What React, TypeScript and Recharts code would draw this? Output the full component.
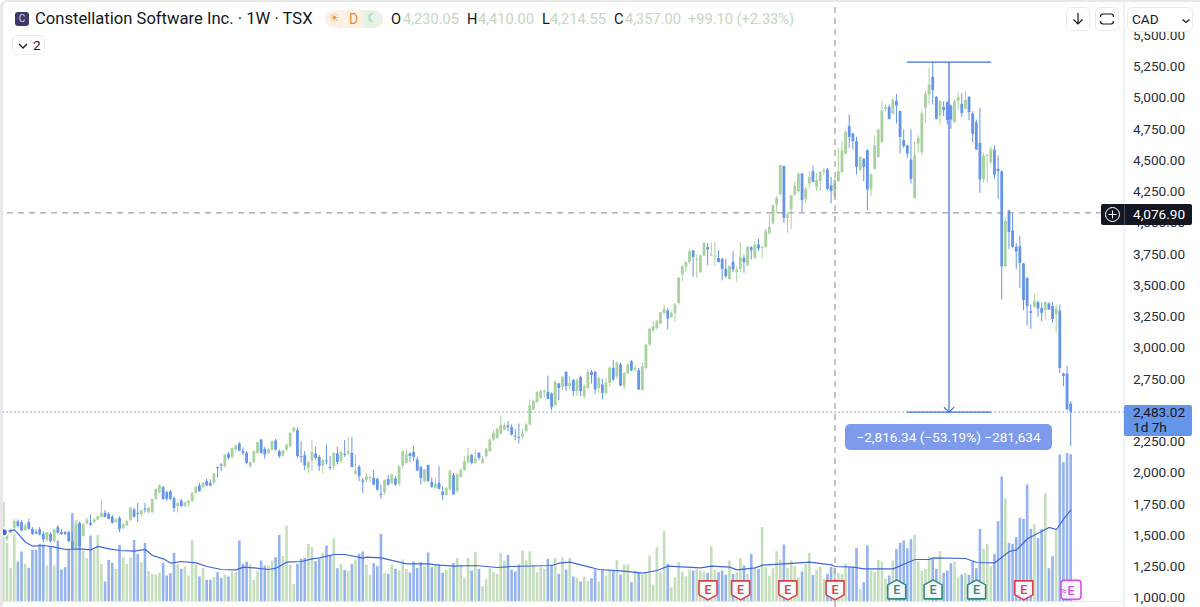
import React from 'react';
import { ComposedChart, Bar, Line, XAxis, YAxis, ReferenceLine, ReferenceDot } from 'recharts';

type Candle = [number, number, number, number];

// weekly candles, [open, high, low, close]
const candles2019: Candle[] = [
  [1504,1540,1495,1531],[1464,1525,1450,1517],[1517,1550,1510,1544],[1557,1629,1550,1611],[1611,1625,1560,1571],[1603,1620,1530,1536],
  [1539,1590,1530,1576],[1603,1629,1539,1549],[1549,1565,1500,1509],[1525,1545,1505,1512],[1544,1565,1496,1504],[1509,1530,1440,1464],
  [1464,1525,1445,1523],[1509,1520,1440,1451],[1451,1550,1440,1544],[1563,1578,1510,1517],[1523,1545,1500,1509],[1523,1535,1500,1509],
  [1523,1535,1440,1451],[1451,1520,1390,1397],[1397,1590,1390,1584],[1597,1610,1400,1411],[1491,1595,1485,1584],[1592,1640,1585,1624],
  [1597,1664,1570,1584],[1603,1635,1595,1624],[1624,1655,1615,1651],[1645,1784,1640,1677],[1677,1700,1640,1645],[1669,1685,1625,1629],
  [1645,1660,1590,1597],[1603,1635,1595,1624],[1635,1650,1523,1549],[1557,1600,1545,1584],[1576,1620,1570,1611],[1619,1725,1610,1717],
  [1704,1720,1640,1645],[1677,1757,1603,1672],[1664,1700,1650,1699],[1712,1757,1677,1704],[1683,1725,1675,1717],[1683,1790,1675,1789],
  [1789,1870,1780,1869],[1843,1905,1835,1896],[1883,1895,1780,1789],[1843,1855,1775,1789],[1848,1860,1780,1789],[1795,1810,1683,1717],
  [1731,1760,1680,1757],[1776,1790,1725,1731],[1731,1765,1725,1763],[1757,1785,1730,1771],[1771,1845,1765,1837],[1837,1890,1830,1885],
  [1896,1915,1845,1851],[1885,1925,1875,1917],[1931,1950,1890,1896],[1917,1945,1890,1896],[1917,1995,1905,1992],[2043,2050,1960,2037],
  [2064,2075,2010,2058],[2051,2145,2040,2144],[2149,2165,2105,2117],[2125,2200,2115,2197],[2184,2225,2170,2216],[2232,2245,2170,2176],
  [2171,2200,2140,2157],[2157,2170,2065,2077],[2051,2090,2035,2083],[2083,2175,2075,2171],[2157,2245,2150,2243],[2264,2270,2150,2157],
  [2189,2205,2110,2144],[2157,2195,2145,2184],[2184,2255,2175,2251],[2256,2270,2175,2184],[2171,2185,2115,2131],[2136,2180,2125,2176],
  [2184,2230,2170,2224],[2211,2325,2200,2317],[2331,2372,2320,2357],[2339,2360,2115,2131],
];

const candles2021: Candle[] = [
  [2131,2251,2077,2123],[2139,2171,2019,2056],[2037,2095,1992,2083],[2096,2264,2011,2163],[2152,2205,2104,2117],[2125,2140,2011,2051],
  [2056,2110,1992,2099],[2096,2224,2064,2088],[2045,2131,2019,2040],[2051,2165,2024,2157],[2152,2205,2064,2083],[2091,2185,2075,2163],
  [2149,2259,2125,2144],[2152,2285,2140,2171],[2157,2285,2040,2045],[1989,2144,1984,2011],[2045,2061,1931,1971],[1936,1957,1837,1923],
  [1939,1997,1923,1971],[1955,1984,1923,1965],[1957,2019,1896,1904],[1949,1960,1851,1864],[1829,1904,1789,1824],[1843,1945,1824,1939],
  [1949,1979,1891,1904],[1917,1989,1904,1984],[1952,1971,1891,1904],[1912,2055,1891,2051],[2056,2179,2029,2171],[2077,2184,2072,2144],
  [2152,2163,2083,2131],[2163,2216,2091,2125],[2104,2125,2011,2016],[2043,2055,1904,1957],[1931,2029,1923,2024],[2061,2061,1923,1931],
  [1925,1963,1877,1885],[1877,1957,1870,1909],[1917,2051,1864,1869],[1848,1891,1779,1819],[1819,1885,1811,1877],[1864,2020,1855,2016],
  [1979,1997,1824,1824],[1851,1997,1837,1984],[1965,2037,1957,2016],[2019,2131,2011,2091],[2083,2197,2072,2136],[2139,2150,2064,2077],
  [2077,2184,2072,2112],[2157,2163,2099,2117],[2077,2131,2072,2109],[2131,2197,2117,2189],[2171,2277,2163,2264],[2264,2339,2251,2317],
  [2277,2357,2269,2349],[2312,2456,2304,2379],[2344,2397,2339,2379],[2376,2411,2331,2363],[2363,2384,2296,2304],[2296,2349,2259,2291],
  [2285,2392,2232,2277],[2285,2345,2264,2312],[2331,2397,2317,2384],[2384,2584,2376,2536],[2504,2584,2499,2571],[2563,2651,2557,2645],
  [2597,2659,2589,2651],[2643,2664,2597,2651],[2643,2776,2584,2589],[2632,2640,2496,2523],[2539,2739,2531,2725],[2712,2717,2579,2677],
  [2685,2771,2659,2765],[2805,2812,2651,2691],[2691,2771,2664,2717],[2739,2750,2611,2651],[2651,2757,2611,2739],[2765,2775,2611,2651],
  [2611,2704,2589,2691],[2677,2824,2664,2805],[2805,2819,2712,2779],[2805,2812,2629,2664],[2677,2765,2640,2757],
];

const candles2023: Candle[] = [
  [2704,2749,2584,2637],[2637,2757,2625,2717],[2717,2851,2691,2837],[2837,2899,2731,2744],[2771,2891,2744,2877],[2864,2880,2691,2696],
  [2696,2803,2664,2797],[2792,2877,2784,2864],[2891,2899,2811,2816],[2824,2856,2803,2837],[2819,2837,2659,2664],[2659,2877,2659,2851],
  [2837,3024,2824,3024],[3024,3157,3011,3149],[3136,3211,3123,3171],[3157,3219,3144,3211],[3192,3283,3184,3283],[3277,3344,3264,3309],
  [3296,3317,3144,3232],[3243,3291,3237,3277],[3277,3357,3211,3344],[3357,3563,3344,3557],[3584,3656,3531,3651],[3645,3691,3603,3683],
  [3683,3789,3677,3771],[3776,3779,3565,3723],[3704,3744,3557,3709],[3603,3744,3597,3736],[3736,3843,3731,3837],[3803,3837,3659,3784],
  [3736,3837,3731,3744],[3731,3843,3651,3736],[3717,3779,3677,3685],[3709,3717,3536,3629],[3629,3709,3557,3571],[3549,3656,3544,3651],
  [3685,3771,3603,3624],[3603,3651,3525,3624],[3629,3843,3603,3725],[3717,3744,3597,3683],[3656,3811,3651,3805],[3803,3811,3704,3776],
  [3717,3851,3709,3824],[3824,3869,3771,3792],[3797,3811,3712,3805],[3805,3949,3797,3931],[3917,4064,3904,3965],[3992,4144,3984,4136],
  [4144,4211,4077,4197],[4224,4464,4224,4459],[4451,4456,3997,4037],[4037,4077,3917,4064],[4109,4224,3949,4216],[4224,4331,4211,4296],
  [4251,4397,4237,4392],[4392,4397,4083,4179],[4189,4285,4157,4269],[4312,4411,4277,4365],[4411,4456,4323,4325],[4285,4397,4251,4339],
  [4331,4411,4251,4403],[4408,4437,4380,4419],[4424,4437,4259,4269],[4296,4365,4152,4251],[4216,4349,4197,4344],[4331,4600,4325,4411],
];

const candles2025: Candle[] = [
  [4403,4651,4397,4576],[4552,4744,4544,4723],[4771,4864,4597,4685],[4712,4717,4584,4651],[4651,4685,4384,4445],[4419,4531,4411,4525],
  [4509,4517,4331,4445],[4579,4584,4099,4264],[4264,4392,4211,4384],[4429,4696,4424,4619],[4525,4749,4517,4744],[4643,4971,4637,4896],
  [4909,4944,4890,4925],[4925,4944,4824,4829],[4872,4997,4864,4979],[4971,5029,4792,4936],[4891,4896,4552,4685],[4659,4744,4597,4611],
  [4616,4624,4517,4552],[4504,4744,4312,4349],[4197,4651,4192,4536],[4632,4704,4557,4677],[4563,4904,4536,4872],[4917,5051,4797,5032],
  [5024,5237,4944,5104],[5165,5285,4944,5059],[5005,5011,4824,4829],[4856,4976,4784,4971],[4925,4971,4851,4899],[4963,4971,4784,4819],
  [4936,4944,4749,4824],[4803,4984,4797,4971],[4971,5051,4904,5003],[4949,5037,4845,4877],[4909,5051,4904,4979],[5005,5011,4819,4883],
  [4872,4891,4643,4709],[4803,4824,4579,4584],[4637,4917,4237,4344],[4349,4557,4317,4536],[4531,4544,4317,4541],[4483,4611,4464,4589],
  [4584,4616,4349,4384],[4429,4536,4189,4411],[4408,4420,3384,3650],[3651,4040,3645,4011],[4096,4104,3789,3925],[3936,4072,3797,3805],
  [3805,3837,3629,3768],[3811,3891,3477,3677],[3672,3677,3299,3379],[3557,3563,3176,3331],[3291,3344,3149,3277],[3325,3429,3317,3371],
  [3363,3376,3245,3312],[3317,3357,3211,3277],[3299,3371,3219,3363],[3352,3363,3299,3304],[3331,3363,3197,3229],[3264,3344,3117,3312],
  [3296,3344,2797,2837],[2792,2800,2691,2771],[2792,2851,2504,2504],[2552,2571,2211,2483.02],
];

const volumes = [
  298,175,100,203,120,150,113,101,155,155,173,171,108,163,108,183,96,103,158,265,245,233,153,130,198,155,200,113,60,125,116,98,170,133,113,131,185,143,118,176,
  91,83,81,86,116,78,85,146,111,98,105,78,185,111,75,101,65,65,73,88,71,81,75,91,88,183,113,120,111,65,91,123,108,108,123,133,200,136,228,110,53,113,
  128,131,173,163,121,128,146,168,138,190,100,113,95,91,113,125,143,150,111,81,115,106,203,86,83,111,98,93,126,98,87,120,101,118,106,147,103,111,111,86,
  95,101,116,131,111,71,131,93,148,98,46,67,100,88,83,146,123,140,95,90,111,153,123,151,111,88,103,98,128,111,131,83,133,96,131,75,71,60,75,61,70,96,60,
  95,78,96,93,125,81,111,111,58,93,85,81,85,138,51,163,88,211,113,43,73,118,88,75,96,93,98,93,90,86,166,96,88,93,80,123,83,88,130,108,
  83,143,100,98,223,103,78,100,151,126,171,100,123,106,73,90,113,146,80,95,105,68,83,103,101,85,
  83,113,103,103,161,38,58,168,93,88,125,120,68,78,123,158,176,183,160,187,200,120,93,98,135,128,98,151,86,93,
  115,120,73,81,86,80,120,100,218,158,173,105,143,241,375,308,176,173,193,251,248,351,218,231,190,218,325,100,136,213,441,418,446,442,
];

// volume moving average, read at the bends only
const maIndex = [0,3,4,6,8,11,14,17,21,24,26,29,32,36,39,41,44,46,49,53,56,60,64,66,69,73,75,78,82,85,87,91,94,99,100,104,111,117,120,124,130,136,140,151,153,156,160,164,170,176,180,183,192,195,200,202,207,209,215,222,228,229,234,237,245,251,255,256,265,268,273,277,279,282,286,288,290,292,294];
const maValues = [208,215,203,178,166,168,163,156,158,155,165,158,153,151,156,138,128,115,120,116,105,96,95,103,101,96,100,118,120,128,131,141,141,130,133,131,113,113,109,106,108,102,105,108,115,118,107,96,92,85,93,106,101,106,103,95,101,109,113,118,110,105,103,98,98,126,126,131,129,117,116,150,155,188,211,222,216,248,275];

const priceTicks = [1000,1250,1500,1750,2000,2250,2500,2750,3000,3250,3500,3750,4000,4250,4500,4750,5000,5250,5500];

const earningsBeat = [246,256,268];
const earningsMiss = [194,203,216,229,281];
const earningsNext = 294;

const lastPrice = 2483.02;
const crossPrice = 4076.9;
const crossIndex = 229;
const measureTop = 5283;
const measureFrom = 248.8;
const measureTo = 272;
const measureAt = 260.4;

const allCandles = [...candles2019, ...candles2021, ...candles2023, ...candles2025];
const data = allCandles.map(([open, high, low, close], i) => ({
  i,
  open,
  high,
  low,
  close,
  range: [low, high],
  volume: volumes[i] ?? 0,
  ma: maIndex.includes(i) ? maValues[maIndex.indexOf(i)] : null,
}));

// first bar sits at x=3.7, last at x=1071, plot runs 0..1124
const step = (1071 - 3.7) / (data.length - 1);
const xDomain = [-3.7 / step, (1124 - 3.7) / step];

const UP = '#a9d29f';
const DOWN = '#6595e8';
const VOL_UP = '#c5dfbc';
const VOL_DOWN = '#95b3ef';

const CandleShape = (props: any) => {
  const { x, y, width, height, payload } = props;
  const cx = x + width / 2;
  const k = height / (payload.high - payload.low);
  const top = y + (payload.high - Math.max(payload.open, payload.close)) * k;
  const bottom = y + (payload.high - Math.min(payload.open, payload.close)) * k;
  const color = payload.close >= payload.open ? UP : DOWN;
  return (
    <g>
      <line x1={cx} x2={cx} y1={y} y2={y + height} stroke={color} strokeWidth={1} />
      <rect x={cx - 1.4} y={top} width={2.8} height={Math.max(bottom - top, 1)} fill={color} />
    </g>
  );
};

const VolumeShape = (props: any) => {
  const { x, y, width, height, payload } = props;
  const color = payload.close >= payload.open ? VOL_UP : VOL_DOWN;
  return <rect x={x + width / 2 - 1.3} y={y} width={2.6} height={height} fill={color} />;
};

const EarningsShape = (kind: 'beat' | 'miss') => (props: any) => {
  const { cx, cy } = props;
  const color = kind === 'beat' ? '#2e8b7b' : '#d8404a';
  const points =
    kind === 'beat'
      ? `${cx},${cy - 10} ${cx + 9},${cy - 5} ${cx + 9},${cy + 9} ${cx - 9},${cy + 9} ${cx - 9},${cy - 5}`
      : `${cx - 9},${cy - 9} ${cx + 9},${cy - 9} ${cx + 9},${cy + 5} ${cx},${cy + 10} ${cx - 9},${cy + 5}`;
  return (
    <g>
      <polygon points={points} fill="#ffffff" fillOpacity={0.85} stroke={color} strokeWidth={1.6} strokeLinejoin="round" />
      <text x={cx} y={cy + 4.5} textAnchor="middle" fontSize={12.5} fontWeight={500} fill={color} fontFamily="Roboto">E</text>
    </g>
  );
};

const NextEarningsShape = (props: any) => {
  const { cx, cy } = props;
  return (
    <g>
      <rect x={cx - 10} y={cy - 9.5} width={20} height={19} rx={3} fill="#ffffff" fillOpacity={0.85} stroke="#d150e2" strokeWidth={1.6} />
      <text x={cx} y={cy + 5} textAnchor="middle" fontSize={12.5} fontWeight={500} fill="#d150e2" fontFamily="Roboto">E</text>
      <text x={cx - 7} y={cy + 4} textAnchor="middle" fontSize={10} fill="#d150e2" fontFamily="Roboto">≈</text>
    </g>
  );
};

const Label = ({ left, top, color, size = 14.6, children }: any) => (
  <span style={{ position: 'absolute', left, top, color, fontSize: size, lineHeight: '18px', whiteSpace: 'nowrap' }}>{children}</span>
);

const boxStyle: React.CSSProperties = {
  position: 'absolute',
  background: '#fff',
  border: '1px solid #e9ebef',
  borderRadius: 5,
  boxSizing: 'border-box',
};

const formatPrice = (v: number) => v.toLocaleString('en-US', { minimumFractionDigits: 2, maximumFractionDigits: 2 });

const GREY = '#c4d8c0';

export default function App() {
  return (
    <div style={{ position: 'absolute', left: 0, top: 0, width: 1200, height: 607, background: '#fff', overflow: 'hidden', fontFamily: 'Roboto, sans-serif' }}>
      <ComposedChart width={1200} height={607} data={data} margin={{ top: 0, right: 0, bottom: 0, left: 0 }}>
        <XAxis xAxisId="price" dataKey="i" type="number" domain={xDomain} allowDataOverflow hide />
        <XAxis xAxisId="vol" dataKey="i" type="number" domain={xDomain} allowDataOverflow hide />
        <YAxis
          yAxisId="price"
          orientation="right"
          width={76}
          domain={[924, 5780]}
          allowDataOverflow
          ticks={priceTicks}
          interval={0}
          tickFormatter={formatPrice}
          tickSize={0}
          tickMargin={9}
          tick={{ fontSize: 13.6, fill: '#2a2e39', fontFamily: 'Roboto' }}
          axisLine={{ stroke: '#e0e3eb' }}
        />
        <YAxis yAxisId="vol" hide domain={[-16.5, 1804.5]} allowDataOverflow />

        <Bar xAxisId="vol" yAxisId="vol" dataKey="volume" barSize={3} shape={VolumeShape} isAnimationActive={false} />
        <Line xAxisId="vol" yAxisId="vol" dataKey="ma" stroke="#3f66d8" strokeWidth={1.2} dot={false} connectNulls isAnimationActive={false} />
        <Bar xAxisId="price" yAxisId="price" dataKey="range" barSize={3} shape={CandleShape} isAnimationActive={false} />

        <ReferenceLine xAxisId="price" yAxisId="price" y={968} stroke="#e4e8f0" />
        <ReferenceLine xAxisId="price" yAxisId="price" y={crossPrice} stroke="#8a8a8a" strokeDasharray="6 5" />
        <ReferenceLine xAxisId="price" yAxisId="price" x={crossIndex} stroke="#8a8a8a" strokeDasharray="6 5" />
        <ReferenceLine xAxisId="price" yAxisId="price" y={lastPrice} stroke="#6595e8" strokeDasharray="1.5 2.5" />

        <ReferenceLine xAxisId="price" yAxisId="price" stroke="#3f6fe0" strokeWidth={1.2} segment={[{ x: measureFrom, y: measureTop }, { x: measureTo, y: measureTop }]} />
        <ReferenceLine xAxisId="price" yAxisId="price" stroke="#3f6fe0" strokeWidth={1.2} segment={[{ x: measureFrom, y: lastPrice }, { x: measureTo, y: lastPrice }]} />
        <ReferenceLine xAxisId="price" yAxisId="price" stroke="#3f6fe0" strokeWidth={1.2} segment={[{ x: measureAt, y: measureTop }, { x: measureAt, y: lastPrice }]} />
        <ReferenceLine xAxisId="price" yAxisId="price" stroke="#3f6fe0" strokeWidth={1.2} segment={[{ x: measureAt - 1.4, y: lastPrice + 40 }, { x: measureAt, y: lastPrice }]} />
        <ReferenceLine xAxisId="price" yAxisId="price" stroke="#3f6fe0" strokeWidth={1.2} segment={[{ x: measureAt + 1.4, y: lastPrice + 40 }, { x: measureAt, y: lastPrice }]} />

        {earningsMiss.map((e) => (
          <ReferenceDot key={e} xAxisId="vol" yAxisId="vol" x={e} y={35} shape={EarningsShape('miss')} />
        ))}
        {earningsBeat.map((e) => (
          <ReferenceDot key={e} xAxisId="vol" yAxisId="vol" x={e} y={35} shape={EarningsShape('beat')} />
        ))}
        <ReferenceDot xAxisId="vol" yAxisId="vol" x={earningsNext} y={35} shape={NextEarningsShape} />
      </ComposedChart>

      {/* window edge */}
      <div style={{ position: 'absolute', left: 0, top: 0, width: 1300, height: 700, boxSizing: 'border-box', borderTop: '2px solid #e8e8e8', borderLeft: '3px solid #e8e8e8', borderTopLeftRadius: 7, pointerEvents: 'none' }} />

      {/* legend */}
      <div style={{ position: 'absolute', left: 15, top: 12, width: 14, height: 14, borderRadius: 3, background: '#3c3a6b', color: '#cfd3ea', fontSize: 10, lineHeight: '14px', textAlign: 'center' }}>C</div>
      <Label left={35} top={10} color="#131722" size={16.6}>Constellation Software Inc. · 1W · TSX</Label>
      <div style={{ position: 'absolute', left: 325, top: 10, width: 38, height: 18, borderRadius: '9px 0 0 9px', background: '#fdf1e3' }} />
      <div style={{ position: 'absolute', left: 363, top: 10, width: 20, height: 18, borderRadius: '0 9px 9px 0', background: '#e6f3e6' }} />
      <Label left={329} top={9} color="#ea9a4c" size={12}>☀</Label>
      <Label left={349} top={10} color="#e38a3c" size={14}>D</Label>
      <Label left={367} top={9} color="#78b878" size={12}>☾</Label>
      <Label left={391} top={10} color="#131722">O</Label>
      <Label left={403} top={10} color={GREY}>4,230.05</Label>
      <Label left={467} top={10} color="#131722">H</Label>
      <Label left={478} top={10} color={GREY}>4,410.00</Label>
      <Label left={542} top={10} color="#131722">L</Label>
      <Label left={550} top={10} color={GREY}>4,214.55</Label>
      <Label left={614} top={10} color="#131722">C</Label>
      <Label left={625} top={10} color={GREY}>4,357.00</Label>
      <Label left={688} top={10} color={GREY}>+99.10 (+2.33%)</Label>

      <div style={{ ...boxStyle, left: 12, top: 35, width: 33, height: 20 }}>
        <svg width={12} height={12} style={{ position: 'absolute', left: 4, top: 4 }}>
          <path d="M2 4 L6 8 L10 4" fill="none" stroke="#131722" strokeWidth={1.3} />
        </svg>
        <span style={{ position: 'absolute', left: 20, top: 1, fontSize: 13.5, color: '#131722' }}>2</span>
      </div>

      {/* top right buttons */}
      <div style={{ ...boxStyle, left: 1066, top: 7, width: 24, height: 24 }}>
        <svg width={22} height={22}>
          <path d="M11 5 V16 M6.5 11.5 L11 16 L15.5 11.5" fill="none" stroke="#131722" strokeWidth={1.2} />
        </svg>
      </div>
      <div style={{ ...boxStyle, left: 1095, top: 7, width: 24, height: 24 }}>
        <svg width={22} height={22}>
          <path d="M7 6 H15 M7 16 H15 M4.5 9 Q4.5 6 7 6 M17.5 9 Q17.5 6 15 6 M4.5 13 Q4.5 16 7 16 M17.5 13 Q17.5 16 15 16" fill="none" stroke="#131722" strokeWidth={1.2} />
        </svg>
      </div>
      <div style={{ ...boxStyle, left: 1127, top: 7, width: 66, height: 25 }}>
        <span style={{ position: 'absolute', left: 4, top: 3, fontSize: 13.6, color: '#131722' }}>CAD</span>
        <svg width={10} height={10} style={{ position: 'absolute', left: 53, top: 8 }}>
          <path d="M1.5 3.5 L5 6.5 L8.5 3.5" fill="none" stroke="#131722" strokeWidth={1.2} />
        </svg>
      </div>

      {/* crosshair price label */}
      <div style={{ position: 'absolute', left: 1101, top: 204, width: 91, height: 21, background: '#131722', borderRadius: 2 }}>
        <svg width={23} height={21} style={{ position: 'absolute', left: 0, top: 0 }}>
          <circle cx={11.5} cy={10.5} r={7} fill="none" stroke="#fff" strokeWidth={1} />
          <path d="M11.5 6.5 V14.5 M7.5 10.5 H15.5" stroke="#fff" strokeWidth={1} />
        </svg>
        <div style={{ position: 'absolute', left: 23, top: 0, width: 1, height: 21, background: '#4a4e59' }} />
        <span style={{ position: 'absolute', left: 32, top: 2, fontSize: 13.6, color: '#fff' }}>4,076.90</span>
      </div>

      {/* last price label */}
      <div style={{ position: 'absolute', left: 1124, top: 405, width: 68, height: 31, background: '#6595e8', borderRadius: 2 }}>
        <span style={{ position: 'absolute', left: 9, top: -1, fontSize: 13.6, color: '#131722' }}>2,483.02</span>
        <span style={{ position: 'absolute', left: 9, top: 14, fontSize: 13.6, color: '#131722' }}>1d 7h</span>
      </div>

      {/* measure label */}
      <div style={{ position: 'absolute', left: 845, top: 424, width: 207, height: 26, background: '#7d9bea', borderRadius: 5, color: '#fff', fontSize: 13.6, lineHeight: '26px', textAlign: 'center', whiteSpace: 'nowrap' }}>
        −2,816.34 (−53.19%) −281,634
      </div>
    </div>
  );
}
